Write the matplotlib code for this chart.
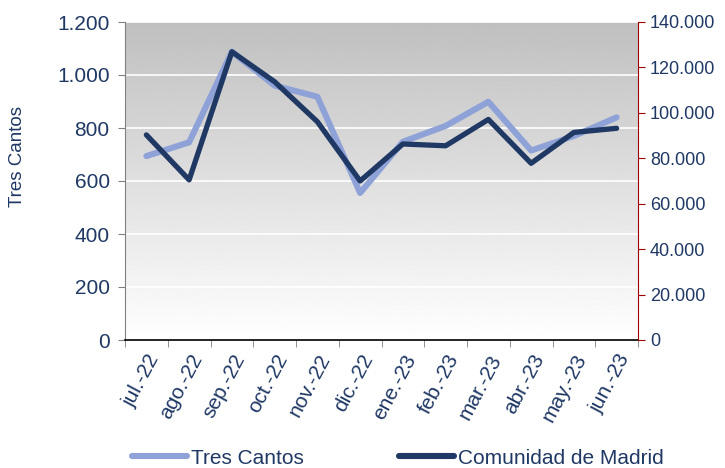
import matplotlib
matplotlib.use("Agg")
import matplotlib.pyplot as plt
import numpy as np
from matplotlib.ticker import FuncFormatter, FixedLocator
from matplotlib.lines import Line2D

plt.rcParams['font.family'] = ['Liberation Sans', 'DejaVu Sans']

months = ["jul.-22", "ago.-22", "sep.-22", "oct.-22", "nov.-22", "dic.-22",
          "ene.-23", "feb.-23", "mar.-23", "abr.-23", "may.-23", "jun.-23"]
tres_cantos = [694, 746, 1088, 960, 918, 555, 748, 808, 899, 715, 770, 840]
madrid = [90300, 70500, 126900, 113700, 96100, 70000, 86300, 85500, 97100, 77800, 91400, 93200]

navy = "#1F3864"
light = "#8EA2D8"
red = "#A00000"

fig = plt.figure(figsize=(7.25, 4.68), dpi=100)
ax = fig.add_axes([125/725, 1-340/468, 513/725, 318/468])
ax2 = ax.twinx()

x = np.arange(len(months))
ax.set_xlim(-0.5, len(months) - 0.5)

# gradient background (white at bottom, grey at top)
grad = np.linspace(1.0, 0.75, 256).reshape(-1, 1)
ax.imshow(grad, extent=[-0.5, len(months) - 0.5, 0, 1200], aspect="auto",
          cmap="gray", vmin=0, vmax=1, zorder=0, origin="lower")
ax.set_ylim(0, 1200)
ax2.set_ylim(0, 140000)

for v in range(200, 1201, 200):
    ax.axhline(v, color="white", lw=1.2, zorder=1)

ax.plot(x, tres_cantos, color=light, lw=4.4, zorder=3, solid_capstyle="round")
ax2.plot(x, madrid, color=navy, lw=3.8, zorder=4, solid_capstyle="round")
ax2.set_zorder(ax.get_zorder() + 1)
ax2.patch.set_visible(False)

dot = FuncFormatter(lambda v, p: f"{int(v):,}".replace(",", "."))
ax.yaxis.set_major_formatter(dot)
ax2.yaxis.set_major_formatter(dot)
ax.set_yticks(range(0, 1201, 200))
ax2.set_yticks(range(0, 140001, 20000))

ax.set_xticks(x)
ax.set_xticklabels(months, rotation=62, ha="right", rotation_mode="anchor")
ax.xaxis.set_minor_locator(FixedLocator(np.arange(-0.5, len(months), 1)))
ax.tick_params(axis="x", which="major", length=0, pad=8, labelsize=15, labelcolor=navy)
ax.tick_params(axis="x", which="minor", length=5, color="#808080", direction="out")
ax.tick_params(axis="y", length=5, color="#808080", labelsize=15, labelcolor=navy, pad=6)
ax2.tick_params(axis="y", length=5, color=red, labelsize=13, labelcolor=navy, pad=3.5)
ax2.tick_params(axis="x", length=0)

for s in ["top", "right"]:
    ax.spines[s].set_visible(False)
ax.spines["left"].set_color("#808080")
ax.spines["bottom"].set_color("black")
ax.spines["bottom"].set_linewidth(1.2)
for s in ["top", "left", "bottom"]:
    ax2.spines[s].set_visible(False)
ax2.spines["right"].set_color(red)

fig.text(18/725, 1-157/468, "Tres Cantos", rotation=90, ha="center", va="center",
         fontsize=13.5, color=navy)

handles = [Line2D([], [], color=light, lw=4.4, solid_capstyle="round"),
           Line2D([], [], color=navy, lw=4.4, solid_capstyle="round")]
fig.legend(handles, ["Tres Cantos", "Comunidad de Madrid"], loc="center",
           bbox_to_anchor=(398/725, 1-458/468), ncol=2, frameon=False,
           fontsize=15, labelcolor=navy, handlelength=2.6, handletextpad=0.2,
           columnspacing=4.6)

fig.savefig("out.png", dpi=100)
